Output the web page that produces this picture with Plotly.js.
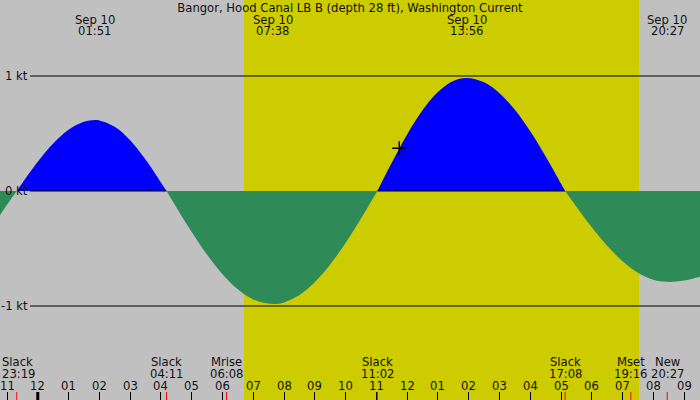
<!DOCTYPE html>
<html>
<head>
<meta charset="utf-8">
<script src="https://cdn.plot.ly/plotly-3.0.1.min.js"></script>
<style>
  html, body { margin: 0; padding: 0; background: #c0c0c0; }
  #chart { width: 700px; height: 400px; }
</style>
</head>
<body>
<div id="chart"></div>
<script>
// hours since Sep 10 00:00 (negative = Sep 9), current in knots (flood +, ebb -)
const times = [-1.227, -1.0, -0.683, -0.5, 0, 0.5, 1.0, 1.5, 1.85, 2.0, 2.5, 3.0, 3.5, 4.0, 4.183,
    4.5, 5.0, 5.5, 6.0, 6.5, 7.0, 7.633, 8.0, 8.5, 9.0, 9.5, 10.0, 10.5, 11.033,
    11.5, 12.0, 12.5, 13.0, 13.5, 13.933, 14.5, 15.0, 15.5, 16.0, 16.5, 17.0, 17.133,
    17.5, 18.0, 18.5, 19.0, 19.5, 20.0, 20.45, 21.0, 21.515];
const knots = [-0.21, -0.12, 0, 0.07, 0.254, 0.413, 0.533, 0.602, 0.617, 0.614, 0.559, 0.441, 0.273, 0.075, 0,
    -0.141, -0.357, -0.555, -0.723, -0.855, -0.943, -0.983, -0.969, -0.905, -0.793, -0.639, -0.452, -0.240, 0,
    0.246, 0.492, 0.702, 0.860, 0.956, 0.983, 0.945, 0.851, 0.706, 0.519, 0.301, 0.064, 0,
    -0.137, -0.315, -0.476, -0.611, -0.711, -0.772, -0.79, -0.778, -0.745];

// max flood / max ebb labels along the top
const extremeTimes = [1.85, 7.633, 13.933, 20.45];
const extremeLabels = ['01:51', '07:38', '13:56', '20:27'];
const extremeDate = 'Sep 10';

// slack / moon events along the bottom
const eventTimes = [-0.683, 4.183, 6.133, 11.033, 17.133, 19.267, 20.45];
const eventNames = ['Slack', 'Slack', 'Mrise', 'Slack', 'Slack', 'Mset', 'New'];
const eventLabels = ['23:19', '04:11', '06:08', '11:02', '17:08', '19:16', '20:27'];

const hourTicks = [-1, 0, 1, 2, 3, 4, 5, 6, 7, 8, 9, 10, 11, 12, 13, 14, 15, 16, 17, 18, 19, 20, 21];
const hourLabels = ['11', '12', '01', '02', '03', '04', '05', '06', '07', '08', '09', '10',
    '11', '12', '01', '02', '03', '04', '05', '06', '07', '08', '09'];

const levelVals = [1, 0, -1];
const levelLabels = ['1 kt', '0 kt', '-1 kt'];

const sunrise = 6.70, sunset = 19.533;
const nowTime = 11.745, nowValue = 0.372;

const xRange = [-1.2274, 21.515];
const yRange = [-1.8174, 1.6609];
const W = 700, H = 400;
const FONT = 'DejaVu Sans, Verdana, sans-serif';
const FSIZE = 11.6;
const TEXT = '#111';

// split the curve into flood / ebb pieces at each slack
function splitSegments(xs, ys) {
    const segs = [];
    let cur = { x: [xs[0]], y: [ys[0]], sign: 0 };
    for (let i = 0; i < xs.length; i++) {
        if (i > 0) { cur.x.push(xs[i]); cur.y.push(ys[i]); }
        if (ys[i] !== 0 && cur.sign === 0) cur.sign = Math.sign(ys[i]);
        if (ys[i] === 0 && i > 0 && i < xs.length - 1) {
            segs.push(cur);
            cur = { x: [xs[i]], y: [ys[i]], sign: 0 };
        }
    }
    segs.push(cur);
    return segs;
}

const segments = splitSegments(times, knots);

const traces = segments.map(s => ({
    x: s.x,
    y: s.y,
    type: 'scatter',
    mode: 'lines',
    line: { shape: 'spline', smoothing: 1, width: 0, color: s.sign > 0 ? '#0000ff' : '#2e8b57' },
    fill: 'tozeroy',
    fillcolor: s.sign > 0 ? '#0000ff' : '#2e8b57',
    hoverinfo: 'skip',
    showlegend: false
}));

traces.push({
    x: [nowTime],
    y: [nowValue],
    type: 'scatter',
    mode: 'markers',
    marker: { symbol: 'cross-thin', size: 10, line: { color: '#000', width: 1.5 } },
    hoverinfo: 'skip',
    showlegend: false
});

const px2x = px => xRange[0] + px / W * (xRange[1] - xRange[0]);
const x2px = x => (x - xRange[0]) / (xRange[1] - xRange[0]) * W;
const lineStartPx = 30;

const shapes = [];
shapes.push({
    type: 'rect', layer: 'below', xref: 'x', yref: 'paper',
    x0: sunrise, x1: sunset, y0: 0, y1: 1,
    fillcolor: '#cccc00', line: { width: 0 }
});

[1, -1].forEach(v => shapes.push({
    type: 'line', layer: 'above', xref: 'paper', yref: 'y',
    x0: lineStartPx / W, x1: 1, y0: v, y1: v,
    line: { color: '#000', width: 1 }
}));

// zero line only shows over flood
segments.filter(s => s.sign > 0).forEach(s => shapes.push({
    type: 'line', layer: 'above', xref: 'x', yref: 'y',
    x0: Math.max(s.x[0], px2x(lineStartPx)), x1: s.x[s.x.length - 1], y0: 0, y1: 0,
    line: { color: '#000', width: 1 }
}));

const tickH = 8 / H;
shapes.push({
    type: 'line', layer: 'above', xref: 'x', yref: 'paper',
    x0: 0, x1: 0, y0: 0, y1: tickH, line: { color: '#000', width: 3 }
});
eventTimes.forEach(t => shapes.push({
    type: 'line', layer: 'above', xref: 'x', yref: 'paper',
    x0: t, x1: t, y0: 0, y1: tickH, line: { color: '#ff0000', width: 1 }
}));

const annotations = [];
const txt = (x, xref, y, yref, text, xanchor) => ({
    x, xref, y, yref, text, xanchor: xanchor || 'center', yanchor: 'middle',
    showarrow: false, borderpad: 0, font: { family: FONT, size: FSIZE, color: TEXT }
});

levelVals.forEach((v, i) => annotations.push(txt(28.5 / W, 'paper', v, 'y', levelLabels[i], 'right')));

extremeTimes.forEach((t, i) => {
    annotations.push(txt(t, 'x', 1 - 20 / H, 'paper', extremeDate));
    annotations.push(txt(t, 'x', 1 - 31 / H, 'paper', extremeLabels[i]));
});

eventTimes.forEach((t, i) => {
    const nearEdge = x2px(t) < 20;
    const x = nearEdge ? px2x(1) : t;
    const anchor = nearEdge ? 'left' : 'center';
    annotations.push(txt(x, 'x', 1 - 362 / H, 'paper', eventNames[i], anchor));
    annotations.push(txt(x, 'x', 1 - 373.5 / H, 'paper', eventLabels[i], anchor));
});

hourTicks.forEach((h, i) => annotations.push(txt(h, 'x', 1 - 386 / H, 'paper', hourLabels[i])));

const layout = {
    width: W,
    height: H,
    margin: { l: 0, r: 0, t: 0, b: 0, pad: 0 },
    paper_bgcolor: '#c0c0c0',
    plot_bgcolor: '#c0c0c0',
    title: {
        text: 'Bangor, Hood Canal LB B (depth 28 ft), Washington Current',
        x: 0.5, xanchor: 'center', y: 1 - 7.5 / H, yanchor: 'middle',
        font: { family: FONT, size: FSIZE, color: TEXT }
    },
    xaxis: {
        range: xRange,
        tickmode: 'array',
        tickvals: hourTicks,
        ticks: 'inside',
        ticklen: 8,
        tickwidth: 1,
        tickcolor: '#000',
        showticklabels: false,
        showgrid: false,
        zeroline: false,
        showline: false,
        fixedrange: true
    },
    yaxis: {
        range: yRange,
        visible: false,
        fixedrange: true
    },
    shapes,
    annotations,
    showlegend: false
};

Plotly.newPlot('chart', traces, layout, { displayModeBar: false, staticPlot: true });
</script>
</body>
</html>
